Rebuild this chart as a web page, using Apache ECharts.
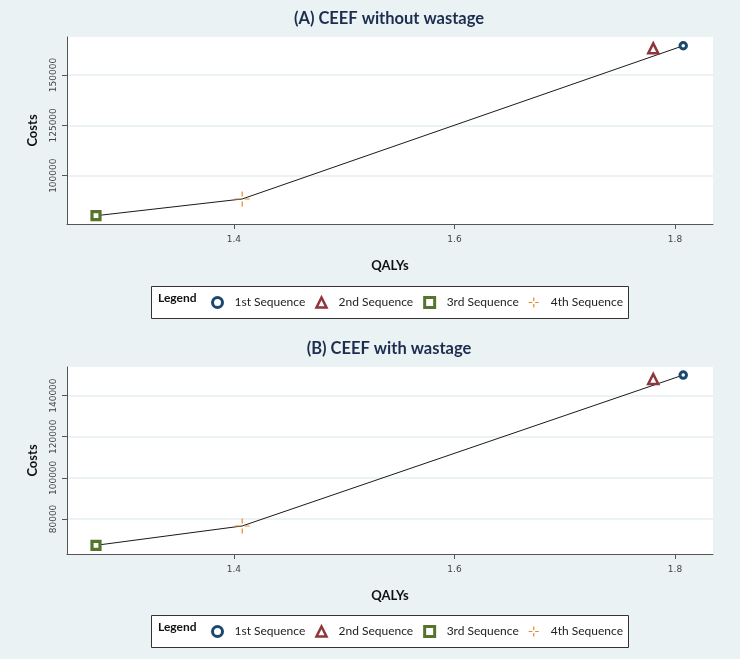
<!DOCTYPE html>
<html>
<head>
<meta charset="utf-8">
<script src="https://cdn.jsdelivr.net/npm/echarts@6/dist/echarts.min.js"></script>
<style>
  html, body { margin: 0; padding: 0; background: #eaf2f3; }
  #chart { width: 740px; height: 659px; }
</style>
</head>
<body>
<div id="chart"></div>
<script>
// ---- data ----
const seqNames = ['1st Sequence', '2nd Sequence', '3rd Sequence', '4th Sequence'];
const qalysA = [1.8075, 1.7803, 1.2749, 1.4075];
const costsA = [164560, 163270, 80120, 88420];
const qalysB = [1.8075, 1.7803, 1.2749, 1.4075];
const costsB = [150020, 148080, 67200, 76600];
const frontierOrder = [2, 3, 0];           // sequences joined by the frontier (by QALYs)
const xTicks = [1.4, 1.6, 1.8];
const yTicksA = [100000, 125000, 150000];
const yTicksB = [80000, 100000, 120000, 140000];
const titles = ['(A) CEEF without wastage', '(B) CEEF with wastage'];

// ---- styles ----
const seqColors = ['#1a476f', '#90353b', '#55752f', '#e8892a'];
const crossPath = 'path://M4.6,0H5.4V3.4H4.6Z M4.6,6.6H5.4V10H4.6Z M0,4.6H3.4V5.4H0Z M6.6,4.6H10V5.4H6.6Z';
const legendCrossPath = 'path://M4.4,0H5.6V3.6H4.4Z M4.4,6.4H5.6V10H4.4Z M0,4.4H3.6V5.6H0Z M6.4,4.4H10V5.6H6.4Z';
const seqSymbols = ['circle', 'triangle', 'rect', crossPath];
const seqSizes = [6.5, 10, 8, 15];
const seqBorder = [3, 2.5, 3.2, 0];
const legendBorder = [3, 2.5, 3, 0];

const FONT = 'Lato, "Open Sans", sans-serif';
const axisColor = '#555';

const panels = [
  { q: qalysA, c: costsA, yTicks: yTicksA, ymin: 76000, ymax: 168900, top: 37, legendTop: 286 },
  { q: qalysB, c: costsB, yTicks: yTicksB, ymin: 62970, ymax: 153920, top: 367, legendTop: 615 }
];

const grids = [], xAxes = [], yAxes = [], series = [], titleOpts = [], legends = [], graphics = [];

panels.forEach((p, k) => {
  grids.push({ left: 67, top: p.top, width: 646, height: 187, show: true,
               backgroundColor: '#ffffff', borderWidth: 0, containLabel: false });
  titleOpts.push({ text: titles[k], left: 384, textAlign: 'center', top: p.top - 32,
                   textStyle: { fontFamily: FONT, fontSize: 16.5, fontWeight: 'bold', color: '#1c2d4f' } });
  xAxes.push({
    type: 'value', gridIndex: k, min: 1.2486, max: 1.8345,
    name: 'QALYs', nameLocation: 'middle', nameGap: 35,
    nameTextStyle: { fontFamily: FONT, fontSize: 13, fontWeight: 'bold', color: '#111' },
    axisLine: { show: true, onZero: false, lineStyle: { color: axisColor, width: 1 } },
    axisTick: { show: true, length: 5, customValues: xTicks, lineStyle: { color: axisColor } },
    axisLabel: { customValues: xTicks, margin: 11, fontFamily: 'DejaVu Sans', fontSize: 9, color: '#444',
                 formatter: v => v.toFixed(1) },
    splitLine: { show: false }
  });
  yAxes.push({
    type: 'value', gridIndex: k, min: p.ymin, max: p.ymax,
    name: 'Costs', nameLocation: 'middle', nameGap: 28,
    nameTextStyle: { fontFamily: FONT, fontSize: 13, fontWeight: 'bold', color: '#111' },
    axisLine: { show: true, onZero: false, lineStyle: { color: axisColor, width: 1 } },
    axisTick: { show: true, length: 5, customValues: p.yTicks, lineStyle: { color: axisColor } },
    axisLabel: { customValues: p.yTicks, rotate: 90, margin: 9, fontFamily: 'DejaVu Sans', fontSize: 9, color: '#444',
                 formatter: v => String(v) },
    splitLine: { show: false }
  });
  // frontier line (with light gridlines as markLines)
  series.push({
    type: 'line', xAxisIndex: k, yAxisIndex: k, z: 1, silent: true,
    data: frontierOrder.map(i => [p.q[i], p.c[i]]),
    symbol: 'none', lineStyle: { color: '#1a1a1a', width: 1 },
    markLine: { silent: true, symbol: 'none', label: { show: false }, z: 0,
                lineStyle: { color: '#e6eff0', width: 1.5, type: 'solid' },
                data: p.yTicks.map(v => ({ yAxis: v })) }
  });
  seqNames.forEach((nm, i) => {
    const isCross = i === 3;
    series.push({
      type: 'scatter', name: nm, xAxisIndex: k, yAxisIndex: k, z: 3,
      data: [[p.q[i], p.c[i]]],
      symbol: seqSymbols[i], symbolSize: seqSizes[i],
      itemStyle: isCross ? { color: seqColors[i], opacity: 1 }
                         : { color: '#ffffff', borderColor: seqColors[i], borderWidth: seqBorder[i], opacity: 1 }
    });
  });
  graphics.push({ type: 'rect', z: 0, shape: { x: 151.5, y: p.legendTop + 0.5, width: 477, height: 32 },
                  style: { fill: '#ffffff', stroke: '#333', lineWidth: 1 } });
  graphics.push({ type: 'text', z: 1, x: 158, y: p.legendTop + 12,
                  style: { text: 'Legend', fontFamily: FONT, fontSize: 12, fontWeight: 'bold', fill: '#111',
                           verticalAlign: 'middle' } });
  legends.push({
    data: seqNames.map((nm, i) => i === 3
      ? { name: nm, icon: legendCrossPath,
          itemStyle: { color: seqColors[i], borderColor: seqColors[i], borderWidth: 0, opacity: 1 } }
      : { name: nm, itemStyle: { color: '#ffffff', borderColor: seqColors[i], borderWidth: legendBorder[i] } }),
    left: 211, top: p.legendTop + 10, padding: 0, itemGap: 10,
    itemWidth: 10, itemHeight: 10, orient: 'horizontal', z: 5,
    textStyle: { fontFamily: FONT, fontSize: 12, color: '#222', padding: [2, 0, 0, 7] },
    selectedMode: false
  });
});

const chart = echarts.init(document.getElementById('chart'), null, { renderer: 'canvas' });
chart.setOption({
  backgroundColor: '#eaf2f3',
  animation: false,
  title: titleOpts,
  grid: grids,
  xAxis: xAxes,
  yAxis: yAxes,
  legend: legends,
  graphic: graphics,
  series: series
});
</script>
</body>
</html>
